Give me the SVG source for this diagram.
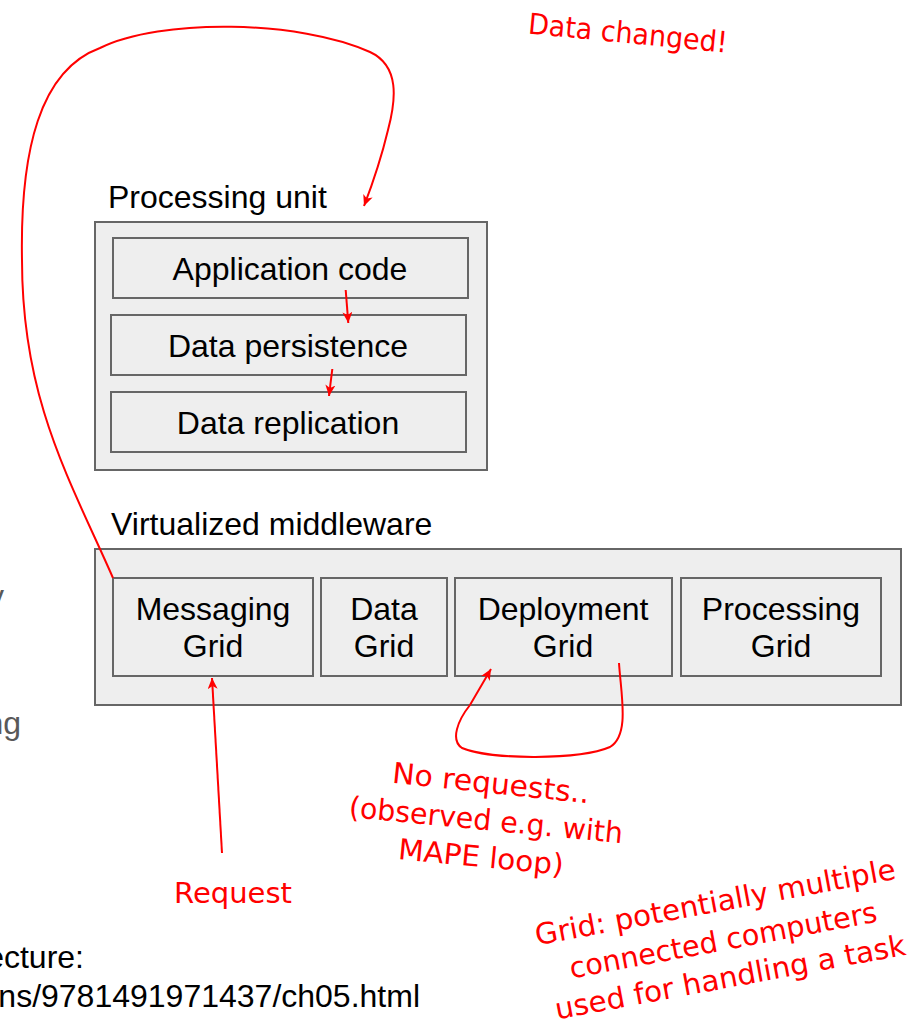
<svg xmlns="http://www.w3.org/2000/svg" width="916" height="1028" viewBox="0 0 916 1028">
<style>
.box{fill:#eeeeee;stroke:#666666;stroke-width:2}
.t{font-family:"Liberation Sans",Arial,sans-serif;font-size:32px;fill:#000}
.c{text-anchor:middle}
.g{fill:#595959}
.r{font-family:"Comic Sans MS","DejaVu Sans",sans-serif;font-size:29px;fill:#ff0000;text-anchor:middle}
.ln{fill:none;stroke:#ff0000;stroke-width:2}
</style>
<defs>
<marker id="ah" markerUnits="userSpaceOnUse" markerWidth="14" markerHeight="12" refX="11" refY="5" orient="auto">
<path d="M0,0 L11,5 L0,10 L3,5 z" fill="#ff0000"/>
</marker>
</defs>
<rect width="916" height="1028" fill="#ffffff"/>

<g id="cut-texts">
<text class="t g" x="4" y="607" text-anchor="end">y</text>
<text class="t g" x="21" y="734" text-anchor="end">ng</text>
<text class="t" x="84" y="968" text-anchor="end">ecture:</text>
<text class="t" x="420" y="1007" text-anchor="end">ns/9781491971437/ch05.html</text>
</g>

<g id="processing-unit">
<text class="t" x="108" y="208">Processing unit</text>
<rect class="box" x="95" y="222" width="392" height="248"/>
</g>
<g id="application-code">
<rect class="box" x="113" y="238" width="355" height="60"/>
<text class="t c" x="290" y="280">Application code</text>
</g>
<g id="data-persistence">
<rect class="box" x="111" y="315" width="355" height="60"/>
<text class="t c" x="288" y="357">Data persistence</text>
</g>
<g id="data-replication">
<rect class="box" x="111" y="392" width="355" height="60"/>
<text class="t c" x="288" y="434">Data replication</text>
</g>

<g id="virtualized-middleware">
<text class="t" x="111" y="535">Virtualized middleware</text>
<rect class="box" x="95" y="549" width="806" height="156"/>
</g>
<g id="messaging-grid">
<rect class="box" x="113" y="578" width="200" height="98"/>
<text class="t c" x="213" y="620">Messaging</text>
<text class="t c" x="213" y="657">Grid</text>
</g>
<g id="data-grid">
<rect class="box" x="321" y="578" width="126" height="98"/>
<text class="t c" x="384" y="620">Data</text>
<text class="t c" x="384" y="657">Grid</text>
</g>
<g id="deployment-grid">
<rect class="box" x="455" y="578" width="217" height="98"/>
<text class="t c" x="563" y="620">Deployment</text>
<text class="t c" x="563" y="657">Grid</text>
</g>
<g id="processing-grid">
<rect class="box" x="681" y="578" width="200" height="98"/>
<text class="t c" x="781" y="620">Processing</text>
<text class="t c" x="781" y="657">Grid</text>
</g>

<g id="connectors">
<path class="ln" d="M113,578 C70,480 22,400 22,260 C20,150 40,70 100,48 C160,18 300,20 370,52 C400,66 396,100 388,130 C382,155 374,180 364,206" marker-end="url(#ah)"/>
<path class="ln" d="M345.7,290 L348.3,323" marker-end="url(#ah)"/>
<path class="ln" d="M332.3,369 L329,396" marker-end="url(#ah)"/>
<path class="ln" d="M222,853 L212,678" marker-end="url(#ah)"/>
<path class="ln" d="M619,663 C621,695 630,735 610,747 C580,760 490,760 462,748 C450,740 458,720 470,705 L491,669" marker-end="url(#ah)"/>
</g>

<g id="annotations">
<text class="r" x="627" y="43" transform="rotate(5.5 627 43)" textLength="200" lengthAdjust="spacingAndGlyphs">Data changed!</text>
<text class="r" x="233" y="903" textLength="118" lengthAdjust="spacingAndGlyphs">Request</text>
<text class="r" x="490" y="793" transform="rotate(6 490 793)" textLength="198" lengthAdjust="spacingAndGlyphs">No requests..</text>
<text class="r" x="485" y="830" transform="rotate(5.5 485 830)" textLength="275" lengthAdjust="spacingAndGlyphs">(observed e.g. with</text>
<text class="r" x="480" y="867" transform="rotate(5.5 480 867)" textLength="166" lengthAdjust="spacingAndGlyphs">MAPE loop)</text>
<text class="r" x="717" y="912" transform="rotate(-10.5 717 912)" textLength="366" lengthAdjust="spacingAndGlyphs">Grid: potentially multiple</text>
<text class="r" x="725" y="950" transform="rotate(-10.5 725 950)" textLength="312" lengthAdjust="spacingAndGlyphs">connected computers</text>
<text class="r" x="732" y="987" transform="rotate(-10.5 732 987)" textLength="356" lengthAdjust="spacingAndGlyphs">used for handling a task</text>
</g>
</svg>
